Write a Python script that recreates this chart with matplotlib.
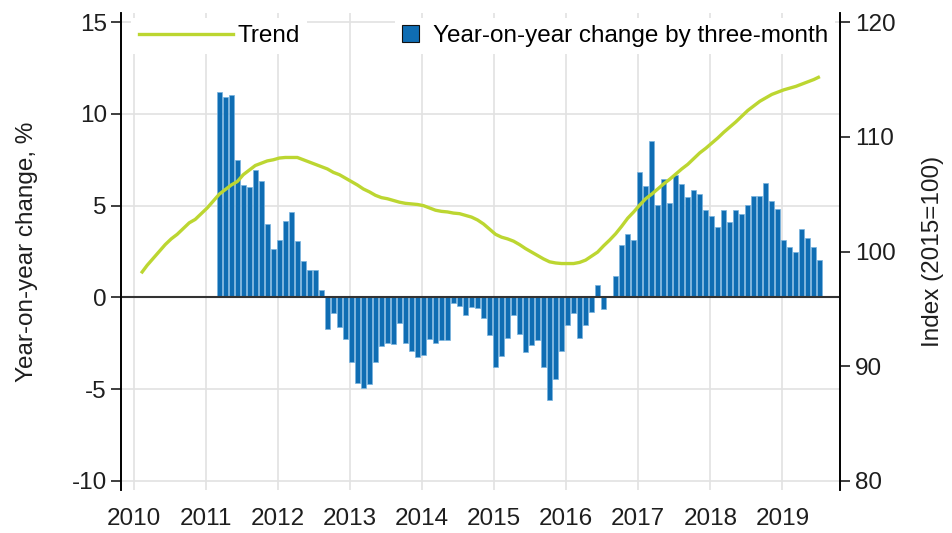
import matplotlib.pyplot as plt
from matplotlib.lines import Line2D
from matplotlib.patches import Patch

plt.rcParams['font.family'] = ['Liberation Sans', 'DejaVu Sans']
plt.rcParams['axes.unicode_minus'] = False

# year-on-year change by three-month, %, monthly from Mar 2011
yoy_2011 = [11.2, 10.9, 11.05, 7.5, 6.15, 6.0, 6.95, 6.35, 4.0, 2.65]
yoy_2012 = [3.15, 4.15, 4.65, 3.05, 2.0, 1.5, 1.5, 0.4, -1.7, -0.85, -1.6, -2.25]
yoy_2013 = [-3.55, -4.65, -4.95, -4.7, -3.55, -2.65, -2.5, -2.55, -1.4, -2.5, -2.9, -3.25]
yoy_2014 = [-3.15, -2.25, -2.5, -2.35, -2.35, -0.3, -0.45, -0.95, -0.55, -0.6, -1.15, -2.05]
yoy_2015 = [-3.8, -3.2, -2.2, -0.95, -2.0, -3.0, -2.6, -2.35, -3.8, -5.6, -4.45, -2.9]
yoy_2016 = [-1.5, -0.85, -2.2, -1.5, -0.8, 0.65, -0.65, 0.05, 1.15, 2.85, 3.45, 3.15]
yoy_2017 = [6.85, 6.05, 8.55, 5.05, 6.47, 5.15, 6.65, 6.2, 5.45, 5.85, 5.62, 4.78]
yoy_2018 = [4.45, 3.85, 4.75, 4.13, 4.75, 4.55, 5.06, 5.55, 5.55, 6.25, 5.25, 4.84]
yoy_2019 = [3.15, 2.77, 2.45, 3.75, 3.25, 2.75, 2.03]

# trend, index 2015=100, monthly from Feb 2010
trend_2010 = [98.1, 98.8, 99.4, 100.0, 100.6, 101.1, 101.5, 102.0, 102.5, 102.8, 103.3]
trend_2011 = [103.8, 104.4, 105.0, 105.4, 105.8, 106.1, 106.7, 107.1, 107.5, 107.7, 107.9, 108.0]
trend_2012 = [108.15, 108.2, 108.2, 108.2, 108.0, 107.8, 107.6, 107.4, 107.2, 106.9, 106.7, 106.4]
trend_2013 = [106.1, 105.8, 105.45, 105.2, 104.9, 104.7, 104.6, 104.45, 104.3, 104.2, 104.15, 104.1]
trend_2014 = [104.0, 103.8, 103.6, 103.5, 103.45, 103.35, 103.3, 103.15, 103.0, 102.75, 102.4, 101.95]
trend_2015 = [101.5, 101.25, 101.1, 100.9, 100.6, 100.25, 99.95, 99.65, 99.35, 99.1, 99.0, 98.95]
trend_2016 = [98.95, 98.95, 99.05, 99.25, 99.6, 99.95, 100.5, 101.0, 101.55, 102.2, 102.9, 103.45]
trend_2017 = [104.05, 104.6, 105.0, 105.45, 105.9, 106.3, 106.75, 107.2, 107.6, 108.1, 108.6, 109.0]
trend_2018 = [109.45, 109.9, 110.4, 110.85, 111.3, 111.8, 112.3, 112.7, 113.1, 113.4, 113.7, 113.9]
trend_2019 = [114.1, 114.25, 114.4, 114.6, 114.8, 115.0, 115.25]

years = list(range(2010, 2020))

yoy = (yoy_2011 + yoy_2012 + yoy_2013 + yoy_2014 + yoy_2015 + yoy_2016
       + yoy_2017 + yoy_2018 + yoy_2019)
trend = (trend_2010 + trend_2011 + trend_2012 + trend_2013 + trend_2014
         + trend_2015 + trend_2016 + trend_2017 + trend_2018 + trend_2019)


def month_x(year, month, n):
    start = year + (month - 1) / 12
    return [start + i / 12 + 1 / 48 for i in range(n)]


yoy_x = month_x(2011, 3, len(yoy))
trend_x = month_x(2010, 2, len(trend))

blue = '#0f6db3'
green = '#bcd631'
txt = '#1e1e1e'
fs = 17.5

fig = plt.figure(figsize=(9.52, 5.33), dpi=100)
ax = fig.add_axes([120.7 / 952, 43 / 533, 719.3 / 952, 477 / 533])
ax2 = ax.twinx()

ax.bar(yoy_x, yoy, width=0.85 / 12, color=blue, edgecolor='#78b3de',
       linewidth=0.5, zorder=2)
ax.axhline(0, color='#333333', lw=1.5, zorder=3)
ax.set_xlim(2009.82, 2019.80)
ax.set_ylim(-10.5, 15.5)
ax.set_yticks([-10, -5, 0, 5, 10, 15])
ax.set_xticks(years)
ax.grid(True, color='#e2e2e2', lw=1.2)
ax.set_axisbelow(True)

ax2.plot(trend_x, trend, color=green, lw=2.4, solid_capstyle='butt')
ax2.set_ylim(79.2, 120.8)
ax2.set_yticks([80, 90, 100, 110, 120])

for a in (ax, ax2):
    a.spines['top'].set_visible(False)
    a.spines['bottom'].set_visible(False)
    a.spines['left'].set_linewidth(1.2)
    a.spines['right'].set_linewidth(1.2)
ax.tick_params(axis='y', length=7, width=1.2, labelsize=fs, pad=3, colors=txt)
ax.tick_params(axis='x', length=0, labelsize=fs, pad=13, colors=txt)
ax2.tick_params(axis='y', length=7, width=1.2, labelsize=fs, pad=4, colors=txt)

ax.set_ylabel('Year-on-year change, %', fontsize=fs, color=txt, labelpad=24)
ax2.set_ylabel('Index (2015=100)', fontsize=fs, color=txt, labelpad=19)

h1 = Line2D([], [], color=green, lw=2.4)
leg1 = ax2.legend([h1], ['Trend'], loc='upper left', bbox_to_anchor=(0.008, 1.0),
                  fontsize=fs, handlelength=3.9, handletextpad=0.15,
                  frameon=True, fancybox=False, framealpha=1, edgecolor='none',
                  borderaxespad=0.2, borderpad=0.3)
ax2.add_artist(leg1)
h2 = Patch(facecolor=blue, edgecolor='#111111', lw=0.8)
ax2.legend([h2], ['Year-on-year change by three-month'], loc='upper right',
           bbox_to_anchor=(1.0, 1.0), fontsize=fs, handlelength=0.7,
           handleheight=0.7, handletextpad=0.55, frameon=True, fancybox=False,
           framealpha=1, edgecolor='none', borderaxespad=0.2, borderpad=0.3)

fig.savefig('out.png', dpi=100)
